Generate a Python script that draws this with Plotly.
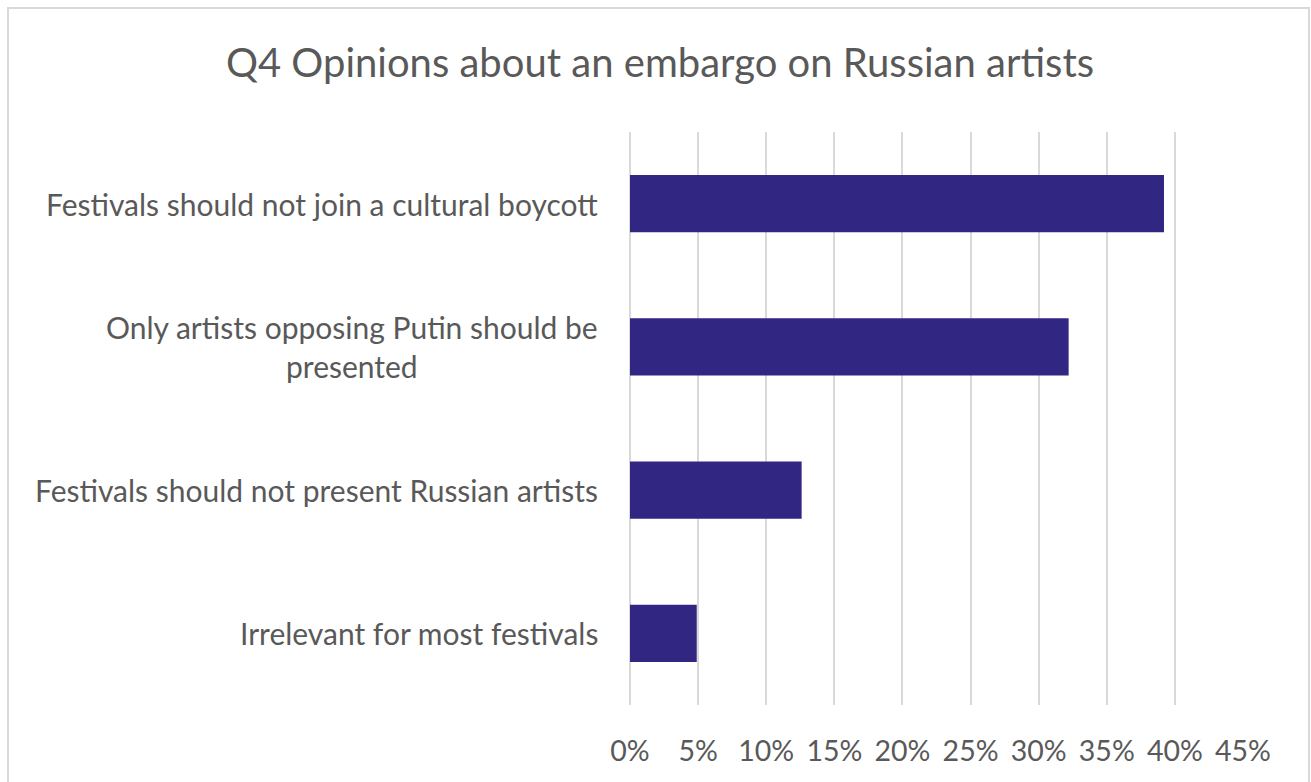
import plotly.graph_objects as go

# Survey answers, top to bottom
categories = [
    "Festivals should not join a cultural boycott",
    "Only artists opposing Putin should be<br>presented",
    "Festivals should not present Russian artists",
    "Irrelevant for most festivals",
]
shares = [0.392, 0.322, 0.126, 0.049]
tick_values = [0, 0.05, 0.10, 0.15, 0.20, 0.25, 0.30, 0.35, 0.40, 0.45]
tick_labels = ["0%", "5%", "10%", "15%", "20%", "25%", "30%", "35%", "40%", "45%"]
title_text = "Q4 Opinions about an embargo on Russian artists"

W, H = 1311, 782
ML, MR, MT, MB = 630, 68, 132, 77
PW, PH = W - ML - MR, H - MT - MB

TEXT = "#595959"
GRID = "#d9d9d9"
BAR = "#312782"
FONT = "Lato"

fig = go.Figure(
    go.Bar(
        x=shares,
        y=categories,
        orientation="h",
        width=0.4,
        marker=dict(color=BAR, line=dict(width=0)),
        hoverinfo="skip",
    )
)

# Category labels, centred per line and right-aligned against the plot
annotations = [
    dict(
        x=0, xref="paper", y=c, yref="y",
        text=c, showarrow=False,
        xanchor="right", yanchor="middle", xshift=-30,
        align="center",
        font=dict(family=FONT, size=30, color=TEXT),
    )
    for c in categories
]

# Outer chart frame in paper units (bottom edge runs past the page)
x0 = (8 - ML) / PW
x1 = (1309 - ML) / PW
y0 = -(MB + 10) / PH
y1 = (PH + MT - 8) / PH

fig.update_layout(
    width=W, height=H,
    margin=dict(l=ML, r=MR, t=MT, b=MB, autoexpand=False),
    paper_bgcolor="white", plot_bgcolor="white",
    showlegend=False,
    title=dict(
        text=title_text, x=660 / W, xref="container", xanchor="center",
        y=1 - 63 / H, yref="container", yanchor="middle",
        font=dict(family=FONT, size=40, color=TEXT),
    ),
    xaxis=dict(
        range=[0, 0.45], tickvals=tick_values, ticktext=tick_labels,
        showgrid=True, gridcolor=GRID, gridwidth=2,
        zeroline=True, zerolinecolor=GRID, zerolinewidth=2,
        showline=False, ticks="", ticklabelstandoff=26,
        tickfont=dict(family=FONT, size=28.5, color=TEXT),
        fixedrange=True,
    ),
    yaxis=dict(
        categoryorder="array", categoryarray=categories,
        autorange="reversed", showticklabels=False,
        showgrid=False, zeroline=False, showline=False, ticks="",
        fixedrange=True,
    ),
    annotations=annotations,
    shapes=[
        dict(type="rect", xref="paper", yref="paper",
             x0=x0, x1=x1, y0=y0, y1=y1,
             line=dict(color=GRID, width=2), layer="below")
    ],
)

fig.write_html("out.html", config={"displayModeBar": False})
